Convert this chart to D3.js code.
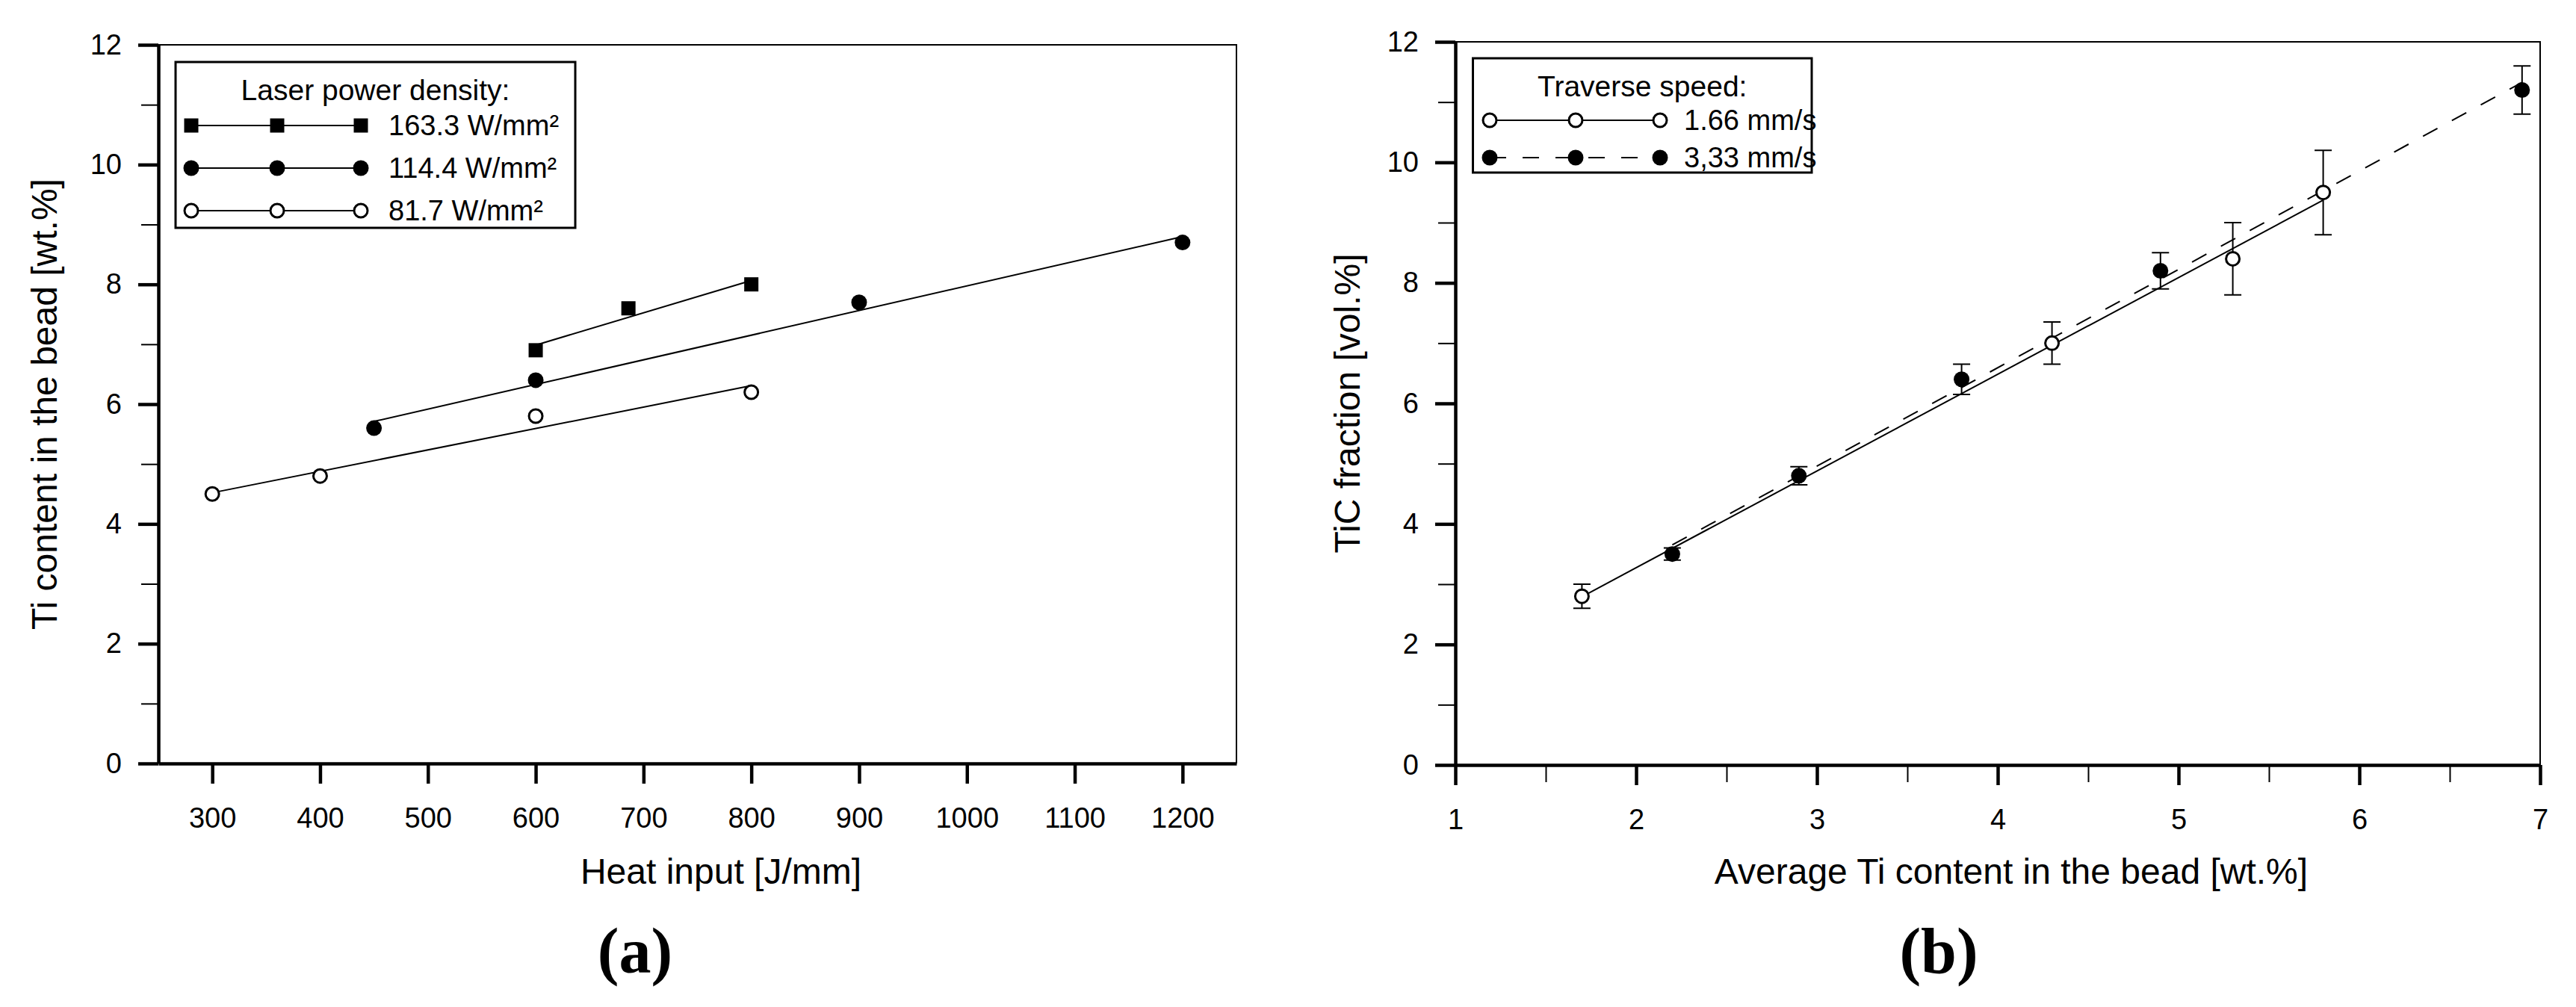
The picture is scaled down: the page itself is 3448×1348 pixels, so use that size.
<!DOCTYPE html>
<html>
<head>
<meta charset="utf-8">
<script src="https://cdn.jsdelivr.net/npm/d3@7"></script>
<style>
  body { margin: 0; background: #fff; }
  svg { display: block; font-family: "Liberation Sans", Arial, sans-serif; }
  .tick text { font-size: 38px; fill: #000; }
</style>
</head>
<body>
<svg id="chart" width="3448" height="1348"></svg>
<script>
// ---- data: panel (a) ----
var heatTicks = [300, 400, 500, 600, 700, 800, 900, 1000, 1100, 1200];
var yMajor = [0, 2, 4, 6, 8, 10, 12];
var yMinor = [1, 3, 5, 7, 9, 11];

var legendA = ["163.3 W/mm\u00b2", "114.4 W/mm\u00b2", "81.7 W/mm\u00b2"];
var heat163 = [600, 686, 800];
var ti163 = [6.9, 7.6, 8.0];
var heat114 = [450, 600, 900, 1200];
var ti114 = [5.6, 6.4, 7.7, 8.7];
var heat82 = [300, 400, 600, 800];
var ti82 = [4.5, 4.8, 5.8, 6.2];

// ---- data: panel (b) ----
var tiMajor = [1, 2, 3, 4, 5, 6, 7];
var tiMinor = [1.5, 2.5, 3.5, 4.5, 5.5, 6.5];
var legendB = ["1.66 mm/s", "3,33 mm/s"];
var tiSlow = [1.7, 4.3, 5.3, 5.8];
var ticSlow = [2.8, 7.0, 8.4, 9.5];
var errSlow = [0.2, 0.35, 0.6, 0.7];
var tiFast = [2.2, 2.9, 3.8, 4.9, 6.9];
var ticFast = [3.5, 4.8, 6.4, 8.2, 11.2];
var errFast = [0.1, 0.15, 0.25, 0.3, 0.4];

var svg = d3.select("#chart");

// least squares line between first and last x
function fit(xs, ys) {
    var mx = d3.mean(xs), my = d3.mean(ys);
    var sxy = d3.sum(xs, function(x, i) { return (x - mx) * (ys[i] - my); });
    var sxx = d3.sum(xs, function(x) { return (x - mx) * (x - mx); });
    var b = sxy / sxx;
    var x0 = d3.min(xs), x1 = d3.max(xs);
    return [[x0, my + b * (x0 - mx)], [x1, my + b * (x1 - mx)]];
}

function drawFrame(x, y, xMajor, xMinor) {
    var x0 = x.range()[0], x1 = x.range()[1];
    var y0 = y.range()[0], y1 = y.range()[1];

    // thin top / right border
    svg.append("path")
        .attr("d", "M" + x0 + "," + y1 + "H" + x1 + "V" + y0)
        .attr("fill", "none")
        .attr("stroke", "#000")
        .attr("stroke-width", 2);

    var left = svg.append("g")
        .attr("transform", "translate(" + x0 + ",0)")
        .call(d3.axisLeft(y).tickValues(yMajor).tickSize(27).tickSizeOuter(0).tickPadding(22));
    svg.append("g")
        .attr("transform", "translate(" + x0 + ",0)")
        .call(d3.axisLeft(y).tickValues(yMinor).tickSize(23).tickFormat(""))
        .call(function(g) {
            g.select(".domain").remove();
            g.selectAll("line").attr("stroke-width", 2);
        });

    var bottom = svg.append("g")
        .attr("transform", "translate(0," + y0 + ")")
        .call(d3.axisBottom(x).tickValues(xMajor).tickSize(27).tickSizeOuter(0).tickPadding(32)
            .tickFormat(d3.format("d")));
    if (xMinor) {
        svg.append("g")
            .attr("transform", "translate(0," + y0 + ")")
            .call(d3.axisBottom(x).tickValues(xMinor).tickSize(23).tickFormat(""))
            .call(function(g) {
                g.select(".domain").remove();
                g.selectAll("line").attr("stroke-width", 2);
            });
    }

    [left, bottom].forEach(function(g) {
        g.select(".domain").attr("stroke-width", 4.5);
        g.selectAll(".tick line").attr("stroke-width", 4.5);
        g.selectAll(".tick text").attr("font-family", null).style("font-size", "38px");
    });
}

function marker(g, kind, cx, cy) {
    if (kind == "square") {
        g.append("rect")
            .attr("x", cx - 9.5).attr("y", cy - 9.5)
            .attr("width", 19).attr("height", 19)
            .attr("fill", "#000");
    } else if (kind == "filled") {
        g.append("circle")
            .attr("cx", cx).attr("cy", cy).attr("r", 10.5)
            .attr("fill", "#000");
    } else {
        g.append("circle")
            .attr("cx", cx).attr("cy", cy).attr("r", 9)
            .attr("fill", "#fff")
            .attr("stroke", "#000")
            .attr("stroke-width", 3);
    }
}

function fitLine(x, y, xs, ys, dash) {
    var line = d3.line()
        .x(function(d) { return x(d[0]); })
        .y(function(d) { return y(d[1]); });
    svg.append("path")
        .attr("d", line(fit(xs, ys)))
        .attr("fill", "none")
        .attr("stroke", "#000")
        .attr("stroke-width", 2)
        .attr("stroke-dasharray", dash || null);
}

function axisTitles(x, y, xText, yText, xLabelX, yLabelX, panel, panelX) {
    var yMid = (y.range()[0] + y.range()[1]) / 2;
    svg.append("text")
        .attr("x", xLabelX).attr("y", 1166).attr("dy", "0.35em")
        .attr("text-anchor", "middle")
        .style("font-size", "48px")
        .text(xText);
    svg.append("text")
        .attr("transform", "translate(" + yLabelX + "," + yMid + ") rotate(-90)")
        .attr("dy", "0.35em")
        .attr("text-anchor", "middle")
        .style("font-size", "48px")
        .text(yText);
    svg.append("text")
        .attr("x", panelX).attr("y", 1302)
        .attr("text-anchor", "middle")
        .style("font-family", "'Liberation Serif', 'DejaVu Serif', serif")
        .style("font-weight", "bold")
        .style("font-size", "86px")
        .text(panel);
}

function legend(box, title, titleY, rows) {
    var g = svg.append("g");
    g.append("rect")
        .attr("x", box[0]).attr("y", box[1])
        .attr("width", box[2] - box[0]).attr("height", box[3] - box[1])
        .attr("fill", "#fff")
        .attr("stroke", "#000")
        .attr("stroke-width", 3);
    g.append("text")
        .attr("x", (box[0] + box[2]) / 2).attr("y", titleY).attr("dy", "0.35em")
        .attr("text-anchor", "middle")
        .style("font-size", "39px")
        .text(title);
    rows.forEach(function(r) {
        g.append("line")
            .attr("x1", r.xs[0]).attr("x2", r.xs[2])
            .attr("y1", r.y).attr("y2", r.y)
            .attr("stroke", "#000")
            .attr("stroke-width", 2)
            .attr("stroke-dasharray", r.dash || null);
        r.xs.forEach(function(cx) { marker(g, r.kind, cx, r.y); });
        g.append("text")
            .attr("x", r.textX).attr("y", r.y).attr("dy", "0.35em")
            .style("font-size", "38px")
            .text(r.label);
    });
}

// ---------- panel (a) ----------
var xA = d3.scaleLinear().domain([250, 1250]).range([212, 1655]);
var yA = d3.scaleLinear().domain([0, 12]).range([1022, 60]);
drawFrame(xA, yA, heatTicks, null);

var seriesA = [
    {xs: heat163, ys: ti163, kind: "square"},
    {xs: heat114, ys: ti114, kind: "filled"},
    {xs: heat82, ys: ti82, kind: "open"}
];
seriesA.forEach(function(s) { fitLine(xA, yA, s.xs, s.ys); });
var gA = svg.append("g");
seriesA.forEach(function(s) {
    s.xs.forEach(function(v, i) { marker(gA, s.kind, xA(v), yA(s.ys[i])); });
});

legend([235, 83, 770, 305], "Laser power density:", 120, [
    {label: legendA[0], kind: "square", y: 168, xs: [256, 371, 483], textX: 520},
    {label: legendA[1], kind: "filled", y: 225, xs: [256, 371, 483], textX: 520},
    {label: legendA[2], kind: "open", y: 282, xs: [256, 371, 483], textX: 520}
]);
axisTitles(xA, yA, "Heat input [J/mm]", "Ti content in the bead [wt.%]", 965, 59, "(a)", 850);

// ---------- panel (b) ----------
var xB = d3.scaleLinear().domain([1, 7]).range([1948, 3400]);
var yB = d3.scaleLinear().domain([0, 12]).range([1024, 56]);
drawFrame(xB, yB, tiMajor, tiMinor);

fitLine(xB, yB, tiSlow, ticSlow);
fitLine(xB, yB, tiFast, ticFast, "22,22");

var seriesB = [
    {xs: tiSlow, ys: ticSlow, err: errSlow, kind: "open"},
    {xs: tiFast, ys: ticFast, err: errFast, kind: "filled"}
];
var gB = svg.append("g");
seriesB.forEach(function(s) {
    s.xs.forEach(function(v, i) {
        var cx = xB(v), top = yB(s.ys[i] + s.err[i]), bot = yB(s.ys[i] - s.err[i]);
        gB.append("path")
            .attr("d", "M" + cx + "," + top + "V" + bot +
                "M" + (cx - 11.5) + "," + top + "H" + (cx + 11.5) +
                "M" + (cx - 11.5) + "," + bot + "H" + (cx + 11.5))
            .attr("fill", "none")
            .attr("stroke", "#000")
            .attr("stroke-width", 2);
    });
});
seriesB.forEach(function(s) {
    s.xs.forEach(function(v, i) { marker(gB, s.kind, xB(v), yB(s.ys[i])); });
});

legend([1971.5, 78, 2425, 231], "Traverse speed:", 115, [
    {label: legendB[0], kind: "open", y: 161, xs: [1994, 2109, 2222], textX: 2254},
    {label: legendB[1], kind: "filled", y: 211, xs: [1994, 2109, 2222], textX: 2254, dash: "22,22"}
]);
axisTitles(xB, yB, "Average Ti content in the bead [wt.%]", "TiC fraction [vol.%]", 2692, 1803, "(b)", 2595);
</script>
</body>
</html>
